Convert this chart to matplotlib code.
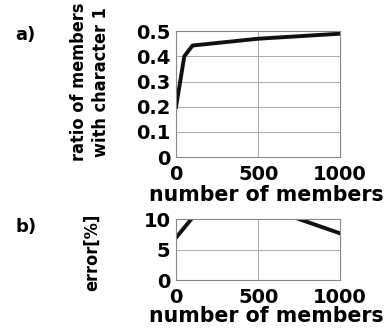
import matplotlib.pyplot as plt

# panel a data
members_a = [0, 50, 100, 500, 1000]
ratio_a = [0.2, 0.40, 0.443, 0.47, 0.49]

# panel b data
members_b = [0, 100, 500, 1000]
error_b = [7.0, 10.3, 12.4, 7.7]

xticks = [0, 500, 1000]
yticks_a = [0, 0.1, 0.2, 0.3, 0.4, 0.5]
yticks_b = [0, 5, 10]

fig = plt.figure(figsize=(3.87, 3.28), dpi=100)
axa = fig.add_axes([0.455, 0.521, 0.424, 0.384])
axb = fig.add_axes([0.455, 0.146, 0.424, 0.185])

tick_font = dict(fontsize=14, fontweight='bold')

for ax in (axa, axb):
    ax.set_xlim(0, 1000)
    ax.set_xticks(xticks)
    ax.set_xticklabels([str(t) for t in xticks], **tick_font)
    ax.grid(True, color='#aaaaaa', lw=0.7)
    ax.tick_params(axis='x', length=0, pad=6)
    ax.tick_params(axis='y', length=0, pad=4)
    for s in ax.spines.values():
        s.set_color('#888888')
        s.set_linewidth(0.8)
    ax.set_xlabel('number of members', fontsize=14.8, fontweight='bold')

axa.xaxis.set_label_coords(0.55, -0.225)
axb.xaxis.set_label_coords(0.55, -0.42)

axa.plot(members_a, ratio_a, color='#111111', lw=2.8)
axa.set_ylim(0, 0.5)
axa.set_yticks(yticks_a)
axa.set_yticklabels(['0', '0.1', '0.2', '0.3', '0.4', '0.5'], **tick_font)

axb.plot(members_b, error_b, color='#111111', lw=2.8)
axb.set_ylim(0, 10)
axb.set_yticks(yticks_b)
axb.set_yticklabels([str(t) for t in yticks_b], **tick_font)

ylab = dict(fontsize=13, fontweight='bold', fontstretch='condensed',
            rotation=90, ha='center', va='center')
fig.text(0.232, 0.75, 'ratio of members\nwith character 1', linespacing=1.3, **ylab)
fig.text(0.238, 0.232, 'error[%]', **ylab)

fig.text(0.04, 0.893, 'a)', fontsize=13, fontweight='bold', va='center')
fig.text(0.04, 0.308, 'b)', fontsize=13, fontweight='bold', va='center')

fig.savefig('out.png', dpi=100)
